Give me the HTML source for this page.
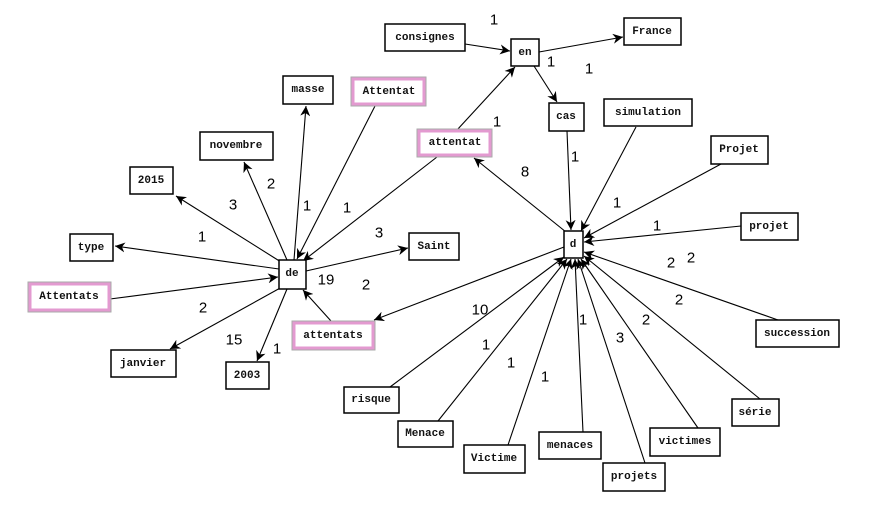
<!DOCTYPE html>
<html><head><meta charset="utf-8"><style>
html,body{margin:0;padding:0;background:#fff;}
svg{display:block;}
.n{fill:#fff;stroke:#000;stroke-width:1.5;}
.p{fill:#fff;stroke:#e39ad0;stroke-width:3;}
.t{font-family:"Liberation Mono",monospace;font-weight:bold;font-size:11px;fill:#111;text-anchor:middle;dominant-baseline:central;}
.l{font-family:"Liberation Sans",sans-serif;font-size:15px;fill:#000;text-anchor:middle;dominant-baseline:central;}
line{stroke:#000;stroke-width:1.1;}
</style></head><body>
<svg width="892" height="507" viewBox="0 0 892 507" xmlns="http://www.w3.org/2000/svg">
<defs><marker id="a" viewBox="0 0 10 10" refX="10" refY="5" markerWidth="10" markerHeight="10" markerUnits="userSpaceOnUse" orient="auto"><path d="M0,0 L10,5 L0,10 L3,5 z" fill="#000"/></marker></defs>
<g marker-end="url(#a)">
<line x1="281" y1="262" x2="176" y2="196"/>
<line x1="287" y1="260" x2="244" y2="162"/>
<line x1="294" y1="260" x2="306" y2="106"/>
<line x1="375" y1="106" x2="297" y2="259"/>
<line x1="437" y1="157" x2="303" y2="261"/>
<line x1="279" y1="269" x2="115" y2="246"/>
<line x1="110" y1="299" x2="278" y2="277"/>
<line x1="306" y1="271" x2="408" y2="248"/>
<line x1="282" y1="287" x2="170" y2="349"/>
<line x1="287" y1="289" x2="257" y2="361"/>
<line x1="331" y1="321" x2="303" y2="290"/>
<line x1="457" y1="130" x2="515" y2="67"/>
<line x1="465" y1="44" x2="510" y2="51"/>
<line x1="539" y1="52" x2="623" y2="37"/>
<line x1="534" y1="66" x2="557" y2="102"/>
<line x1="567" y1="131" x2="571" y2="230"/>
<line x1="566" y1="232" x2="474" y2="158"/>
<line x1="564" y1="247" x2="374" y2="320"/>
<line x1="636" y1="127" x2="581" y2="231"/>
<line x1="721" y1="164" x2="584" y2="238"/>
<line x1="741" y1="226" x2="584" y2="242"/>
<line x1="778" y1="320" x2="584" y2="252"/>
<line x1="760" y1="399" x2="584" y2="256"/>
<line x1="698" y1="428" x2="581" y2="259"/>
<line x1="645" y1="463" x2="578" y2="259"/>
<line x1="583" y1="432" x2="575" y2="259"/>
<line x1="508" y1="445" x2="571" y2="259"/>
<line x1="438" y1="421" x2="567" y2="259"/>
<line x1="390" y1="387" x2="564" y2="257"/>
</g>
<g>
<rect class="n" x="385" y="24" width="80" height="27"/><text class="t" x="425" y="38">consignes</text>
<rect class="n" x="511" y="39" width="28" height="27"/><text class="t" x="525" y="53">en</text>
<rect class="n" x="624" y="18" width="57" height="27"/><text class="t" x="652" y="32">France</text>
<rect class="n" x="549" y="103" width="35" height="28"/><text class="t" x="566" y="117">cas</text>
<rect class="n" x="604" y="99" width="88" height="27"/><text class="t" x="648" y="113">simulation</text>
<rect class="n" x="711" y="136" width="57" height="28"/><text class="t" x="739" y="150">Projet</text>
<rect class="n" x="741" y="213" width="57" height="27"/><text class="t" x="769" y="227">projet</text>
<rect class="n" x="564" y="231" width="19" height="27"/><text class="t" x="573" y="245">d</text>
<rect fill="#fff" stroke="#aaa" stroke-width="1" x="417" y="129" width="75" height="28"/><rect class="p" x="419" y="131" width="71" height="24"/><text class="t" x="455" y="143">attentat</text>
<rect fill="#fff" stroke="#aaa" stroke-width="1" x="351" y="77" width="75" height="29"/><rect class="p" x="353" y="79" width="71" height="25"/><text class="t" x="389" y="92">Attentat</text>
<rect class="n" x="283" y="76" width="50" height="28"/><text class="t" x="308" y="90">masse</text>
<rect class="n" x="200" y="132" width="73" height="28"/><text class="t" x="236" y="146">novembre</text>
<rect class="n" x="130" y="167" width="43" height="27"/><text class="t" x="151" y="181">2015</text>
<rect class="n" x="70" y="234" width="43" height="27"/><text class="t" x="91" y="248">type</text>
<rect fill="#fff" stroke="#aaa" stroke-width="1" x="28" y="282" width="83" height="30"/><rect class="p" x="30" y="284" width="79" height="26"/><text class="t" x="69" y="297">Attentats</text>
<rect class="n" x="279" y="260" width="27" height="29"/><text class="t" x="292" y="274">de</text>
<rect class="n" x="409" y="233" width="50" height="27"/><text class="t" x="434" y="247">Saint</text>
<rect class="n" x="111" y="350" width="65" height="27"/><text class="t" x="143" y="364">janvier</text>
<rect class="n" x="226" y="362" width="43" height="27"/><text class="t" x="247" y="376">2003</text>
<rect fill="#fff" stroke="#aaa" stroke-width="1" x="292" y="321" width="83" height="29"/><rect class="p" x="294" y="323" width="79" height="25"/><text class="t" x="333" y="336">attentats</text>
<rect class="n" x="344" y="387" width="55" height="26"/><text class="t" x="371" y="400">risque</text>
<rect class="n" x="398" y="421" width="55" height="26"/><text class="t" x="425" y="434">Menace</text>
<rect class="n" x="464" y="445" width="61" height="28"/><text class="t" x="494" y="459">Victime</text>
<rect class="n" x="539" y="432" width="62" height="27"/><text class="t" x="570" y="446">menaces</text>
<rect class="n" x="603" y="463" width="62" height="28"/><text class="t" x="634" y="477">projets</text>
<rect class="n" x="650" y="428" width="70" height="28"/><text class="t" x="685" y="442">victimes</text>
<rect class="n" x="732" y="399" width="47" height="27"/><text class="t" x="755" y="413">série</text>
<rect class="n" x="756" y="320" width="83" height="27"/><text class="t" x="797" y="334">succession</text>
</g>
<g>
<text class="l" x="494" y="20">1</text><text class="l" x="551" y="62">1</text><text class="l" x="589" y="69">1</text>
<text class="l" x="497" y="122">1</text><text class="l" x="525" y="172">8</text><text class="l" x="575" y="157">1</text>
<text class="l" x="617" y="203">1</text><text class="l" x="657" y="226">1</text><text class="l" x="671" y="263">2</text>
<text class="l" x="691" y="258">2</text><text class="l" x="679" y="300">2</text><text class="l" x="646" y="320">2</text>
<text class="l" x="480" y="310">10</text><text class="l" x="486" y="345">1</text><text class="l" x="511" y="363">1</text>
<text class="l" x="545" y="377">1</text><text class="l" x="583" y="320">1</text><text class="l" x="620" y="338">3</text>
<text class="l" x="271" y="184">2</text><text class="l" x="233" y="205">3</text><text class="l" x="307" y="206">1</text>
<text class="l" x="347" y="208">1</text><text class="l" x="202" y="237">1</text><text class="l" x="379" y="233">3</text>
<text class="l" x="326" y="280">19</text><text class="l" x="366" y="285">2</text><text class="l" x="203" y="308">2</text>
<text class="l" x="234" y="340">15</text><text class="l" x="277" y="349">1</text>
</g>
</svg>
</body></html>
